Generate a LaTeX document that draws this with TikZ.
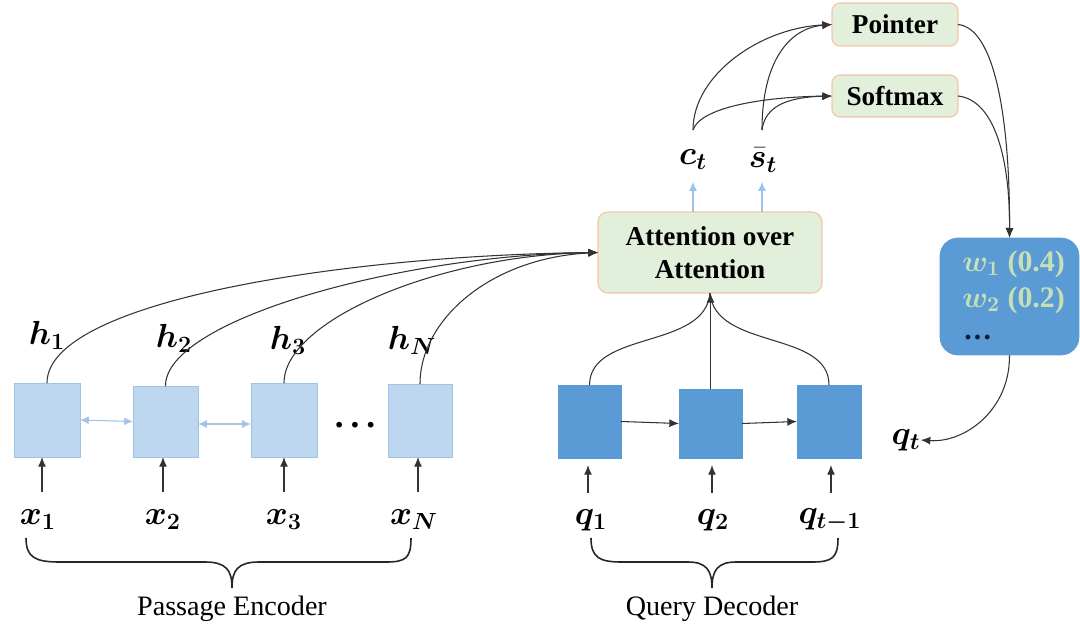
\RequirePackage{fix-cm}
\documentclass[tikz,border=0pt]{standalone}
\usepackage{amsmath}
\usepackage{bm}
\usepackage{fontspec}
\setmainfont{Liberation Serif}
\usetikzlibrary{arrows.meta,calc}
\definecolor{lblue}{HTML}{BDD7EE}
\definecolor{lblueb}{HTML}{9DC3E6}
\definecolor{dblue}{HTML}{5B9BD5}
\definecolor{arrblue}{HTML}{6A9FD3}
\definecolor{lgreen}{HTML}{E2EFDA}
\definecolor{tanb}{HTML}{F4C7A6}
\definecolor{wtext}{HTML}{C5E0B4}
\definecolor{navy}{HTML}{0B1F3A}
\begin{document}
\begin{tikzpicture}[x=0.02cm,y=-0.02cm,
  encbox/.style={draw=lblueb, fill=lblue, line width=0.5pt, inner sep=0, outer sep=0},
  decbox/.style={draw=dblue, fill=dblue, line width=0.5pt, inner sep=0, outer sep=0},
  greenbox/.style={draw=tanb, fill=lgreen, line width=0.7pt, rounded corners=0.2cm, inner sep=0, outer sep=0,
     font=\bfseries\fontsize{15.5}{19}\selectfont, align=center},
  lab/.style={inner sep=0, font=\fontsize{19}{22}\selectfont},
  conn/.style={draw=black!80, line width=0.6pt},
  arr/.style={conn, -{Latex[length=5.5pt,width=4.5pt]}},
  barr/.style={draw=lblueb, line width=0.6pt, -{Latex[length=5pt,width=4.5pt]}},
  darr/.style={draw=arrblue!60, line width=0.6pt, {Latex[length=5pt,width=4.5pt]}-{Latex[length=5pt,width=4.5pt]}, fill=arrblue},
  bracepath/.style={draw=black!85, line width=0.9pt},
  captext/.style={inner sep=0, font=\fontsize{16}{18}\selectfont}
]
\useasboundingbox (0,0) rectangle (1080,643);
\fill[white] (0,0) rectangle (1080,643);

% encoder boxes
\node[encbox, minimum width=1.32cm, minimum height=1.48cm] (e1) at (47,420) {};
\node[encbox, minimum width=1.30cm, minimum height=1.42cm] (e2) at (165.5,421.5) {};
\node[encbox, minimum width=1.32cm, minimum height=1.48cm] (e3) at (284,420) {};
\node[encbox, minimum width=1.28cm, minimum height=1.46cm] (e4) at (420,420.5) {};
\node[inner sep=0, font=\bfseries\fontsize{20}{20}\selectfont] (dots) at (355,425) {.\kern4pt.\kern4pt.};

% decoder boxes
\node[decbox, minimum width=1.26cm, minimum height=1.46cm] (d1) at (589.5,421.5) {};
\node[decbox, minimum width=1.26cm, minimum height=1.38cm] (d2) at (710.5,423.5) {};
\node[decbox, minimum width=1.28cm, minimum height=1.46cm] (d3) at (829,421.5) {};

% attention and output boxes
\node[greenbox, minimum width=4.48cm, minimum height=1.62cm] (att) at (710,252.5) {Attention over\\Attention};
\node[greenbox, minimum width=2.52cm, minimum height=0.86cm, rounded corners=0.16cm] (ptr) at (895,24.5) {Pointer};
\node[greenbox, minimum width=2.52cm, minimum height=0.84cm, rounded corners=0.16cm] (smx) at (895,96) {Softmax};
\node[draw=dblue, fill=dblue, rounded corners=0.36cm, minimum width=2.78cm, minimum height=2.34cm, inner sep=0] (w) at (1009.5,296.5) {};
\node[anchor=west, inner sep=0, text=wtext, font=\bfseries\fontsize{17}{20}\selectfont] (w1) at (962,264) {$\bm{w_1}$ (0.4)};
\node[anchor=west, inner sep=0, text=wtext, font=\bfseries\fontsize{17}{20}\selectfont] (w2) at (962,300) {$\bm{w_2}$ (0.2)};
\node[anchor=west, inner sep=0, text=navy, font=\bfseries\fontsize{17}{20}\selectfont] (w3) at (964,337) {.\kern1.2pt.\kern1.2pt.};

% labels
\node[lab] (h1) at (47,335) {$\bm{h_1}$};
\node[lab] (h2) at (174,338) {$\bm{h_2}$};
\node[lab] (h3) at (288,340) {$\bm{h_3}$};
\node[lab] (hN) at (412,340) {$\bm{h_N}$};
\node[lab] (x1) at (38,520) {$\bm{x_1}$};
\node[lab] (x2) at (163,520) {$\bm{x_2}$};
\node[lab] (x3) at (284,520) {$\bm{x_3}$};
\node[lab] (xN) at (414,520) {$\bm{x_N}$};
\node[lab] (q1) at (591,520) {$\bm{q_1}$};
\node[lab] (q2) at (713,520) {$\bm{q_2}$};
\node[lab] (qt1) at (830,520) {$\bm{q_{t-1}}$};
\node[lab] (ct) at (693,160) {$\bm{c_t}$};
\node[lab] (st) at (763,160) {$\bm{\bar{s}_t}$};
\node[lab] (qt) at (906,440) {$\bm{q_t}$};

\coordinate (ctop) at (693,130);
\coordinate (stop) at (762,130);

% input arrows
\foreach \b/\x in {e1/42,e2/163,e3/284,e4/418}{
  \coordinate (s\b) at (\x,492);
  \draw[arr] (s\b) -- (s\b |- \b.south) ;
}
\foreach \b/\x in {d1/588,d2/712,d3/831}{
  \coordinate (s\b) at (\x,493);
  \draw[arr, shorten >=4pt] (s\b) -- (s\b |- \b.south) ;
}

% bidirectional encoder arrows
\draw[darr] (e1.east) -- (e2.west);
\draw[darr] (e2.east |- 0,424) -- (e3.west |- 0,424);

% encoder to attention
\draw[arr] (e1.north) .. controls (47,300) and (350,255) .. (att.west);
\draw[arr] (e2.north) .. controls (165,320) and (400,255) .. (att.west);
\draw[arr] (e3.north) .. controls (284,320) and (440,255) .. (att.west);
\draw[arr] (e4.north) .. controls (420,320) and (490,258) .. (att.west);

% decoder chain
\draw[arr] (d1.east) -- (d2.west);
\draw[arr] (d2.east) -- (d3.west);
\draw[conn] (d1.north) .. controls (590,330) and (705,350) .. (att.south);
\draw[arr] (d2.north) -- (d2.north |- att.south);
\draw[conn] (d3.north) .. controls (829,330) and (715,350) .. (att.south);

% attention outputs
\draw[barr] (att.north -| ct) -- ++(0,-30);
\draw[barr] (att.north -| stop) -- ++(0,-30);

% to pointer / softmax
\draw[arr] (ctop) .. controls (693,75) and (760,28) .. (ptr.west);
\draw[arr] (ctop) .. controls (700,108) and (760,97) .. (smx.west);
\draw[arr] (stop) .. controls (762,60) and (790,28) .. (ptr.west);
\draw[arr] (stop) .. controls (765,105) and (790,97) .. (smx.west);

% to w box
\draw[arr] (ptr.east) .. controls (995,28) and (1010,120) .. (w.north);
\draw[arr] (smx.east) .. controls (995,100) and (1010,160) .. (w.north);
\draw[arr] (w.south) .. controls (1010,410) and (965,443) .. (qt.east);

% braces
\draw[bracepath] (26,538) .. controls (26,558) and (36,562) .. (60,562) -- (205,562)
  .. controls (226,562) and (232,570) .. (232,588)
  .. controls (232,570) and (238,562) .. (259,562) -- (386,562)
  .. controls (406,562) and (411,558) .. (411,538);
\draw[bracepath] (591,538) .. controls (591,558) and (600,562) .. (622,562) -- (688,562)
  .. controls (706,562) and (712,570) .. (712,588)
  .. controls (712,570) and (718,562) .. (736,562) -- (812,562)
  .. controls (832,562) and (838,558) .. (838,538);
\node[captext] (pe) at (232,609) {Passage Encoder};
\node[captext] (qd) at (712,609) {Query Decoder};
\end{tikzpicture}
\end{document}
